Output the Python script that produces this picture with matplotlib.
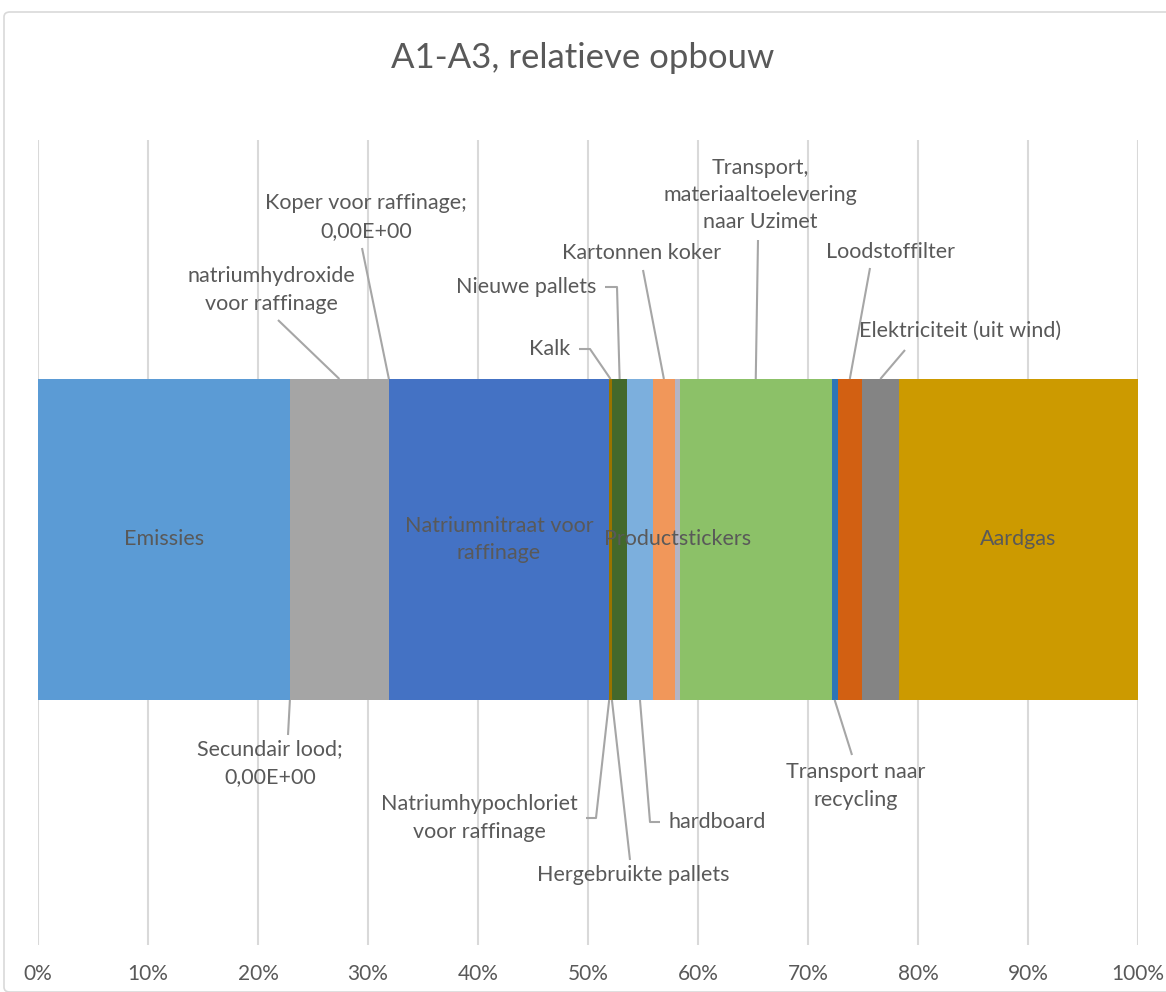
import numpy as np
import matplotlib.pyplot as plt
from matplotlib.patches import FancyBboxPatch

# Data: relatieve opbouw A1-A3 (aandeel in %)
categories = ["Emissies", "Secundair lood; 0,00E+00", "natriumhydroxide voor raffinage",
              "Koper voor raffinage; 0,00E+00", "Natriumnitraat voor raffinage",
              "Natriumhypochloriet voor raffinage", "Kalk", "Hergebruikte pallets",
              "Nieuwe pallets", "hardboard", "Kartonnen koker", "Productstickers",
              "Transport, materiaaltoelevering naar Uzimet", "Transport naar recycling",
              "Loodstoffilter", "Elektriciteit (uit wind)", "Aardgas"]
values = [22.9, 0.0, 9.0, 0.0, 20.0, 0.05, 0.2, 0.05, 1.35, 2.35, 2.0, 0.45,
          13.8, 0.55, 2.2, 3.35, 21.75]
colors = ["#5B9BD5", "#ED7D31", "#A5A5A5", "#FFC000", "#4472C4", "#70AD47", "#997300",
          "#9E480E", "#43682B", "#7CAFDD", "#F1975A", "#B4B4C4", "#8CC168", "#2E75B6",
          "#D26012", "#848484", "#CC9A00"]
xticks = np.arange(0, 101, 10)

TXT = "#595959"
LEAD = "#A6A6A6"
FONT = "Lato"

W, H = 1166, 992
fig = plt.figure(figsize=(W / 100, H / 100), dpi=100)
fig.patch.set_facecolor("white")

# rand om de grafiek
fig.patches.append(FancyBboxPatch((4 / W, 0.0), 1.2, (H - 12) / H, boxstyle="round,pad=0,rounding_size=0.005",
                                  transform=fig.transFigure, fill=False, edgecolor="#D9D9D9", lw=1.2))

# assen in pixel-coordinaten (y = beeldrij)
top, bot, left, right = 140, 945, 38, 1138
ax = fig.add_axes([left / W, 1 - bot / H, (right - left) / W, (bot - top) / H])
ax.set_xlim(0, 100)
ax.set_ylim(bot, top)

pct = np.array(values) / np.sum(values) * 100
starts = np.concatenate([[0], np.cumsum(pct)[:-1]])
bar_y, bar_h = 539.5, 321
ax.barh(bar_y, pct, left=starts, height=bar_h, color=colors, edgecolor="none", zorder=2)
bar_top, bar_bot = bar_y - bar_h / 2, bar_y + bar_h / 2

ax.set_xticks(xticks)
ax.set_xticklabels([f"{t}%" for t in xticks], color=TXT, fontsize=15, family=FONT)
ax.tick_params(axis="x", length=0, pad=14)
ax.set_yticks([])
ax.grid(axis="x", color="#D9D9D9", lw=1.5, zorder=0)
ax.set_axisbelow(True)
for s in ax.spines.values():
    s.set_visible(False)

def px(x):
    return (x - left) / (right - left) * 100

def mid(i):
    return starts[i] + pct[i] / 2

fs = 15.5
ls = 1.45
# labels in de balk
for i, txt in [(0, "Emissies"), (4, "Natriumnitraat voor\nraffinage"), (11, "Productstickers"), (16, "Aardgas")]:
    ax.text(mid(i), bar_y, txt, ha="center", va="center", fontsize=fs, color=TXT,
            family=FONT, linespacing=ls, zorder=3)

# labels met leader lines: (index, tekst, x px, y px, uitlijning, kant, knikpunten in px)
callouts = [
    (1, "Secundair lood;\n0,00E+00", 270, 763, "center", "bot", [(288, 735)]),
    (2, "natriumhydroxide\nvoor raffinage", 271, 290, "center", "top", [(278, 320)]),
    (3, "Koper voor raffinage;\n0,00E+00", 366, 217, "center", "top", [(362, 248)]),
    (5, "Natriumhypochloriet\nvoor raffinage", 578, 818, "right", "bot", [(596, 818), (586, 818)]),
    (6, "Kalk", 570, 349, "right", "top", [(590, 349), (579, 349)]),
    (7, "Hergebruikte pallets", 633, 875, "center", "bot", [(630, 860)]),
    (8, "Nieuwe pallets", 596, 287, "right", "top", [(617, 287), (605, 287)]),
    (9, "hardboard", 668, 822, "left", "bot", [(650, 822), (660, 822)]),
    (10, "Kartonnen koker", 642, 253, "center", "top", [(643, 270)]),
    (12, "Transport,\nmateriaaltoelevering\nnaar Uzimet", 760, 195, "center", "top", [(758, 240)]),
    (13, "Transport naar\nrecycling", 856, 786, "center", "bot", [(852, 755)]),
    (14, "Loodstoffilter", 890, 252, "center", "top", [(870, 268)]),
    (15, "Elektriciteit (uit wind)", 960, 331, "center", "top", [(905, 350)]),
]
for i, txt, lx, ly, ha, side, pts in callouts:
    x0 = starts[i] if pct[i] == 0 else mid(i)
    y0 = bar_top if side == "top" else bar_bot
    xs = [x0] + [px(p[0]) for p in pts]
    ys = [y0] + [p[1] for p in pts]
    ax.plot(xs, ys, color=LEAD, lw=1.5, zorder=3, solid_capstyle="butt")
    ax.text(px(lx), ly, txt, ha=ha, va="center", multialignment="center", fontsize=fs,
            color=TXT, family=FONT, linespacing=ls, zorder=4)

fig.text(0.5, 1 - 58 / H, "A1-A3, relatieve opbouw", ha="center", va="center",
         fontsize=25, color=TXT, family=FONT)

fig.savefig("out.png", dpi=100)
